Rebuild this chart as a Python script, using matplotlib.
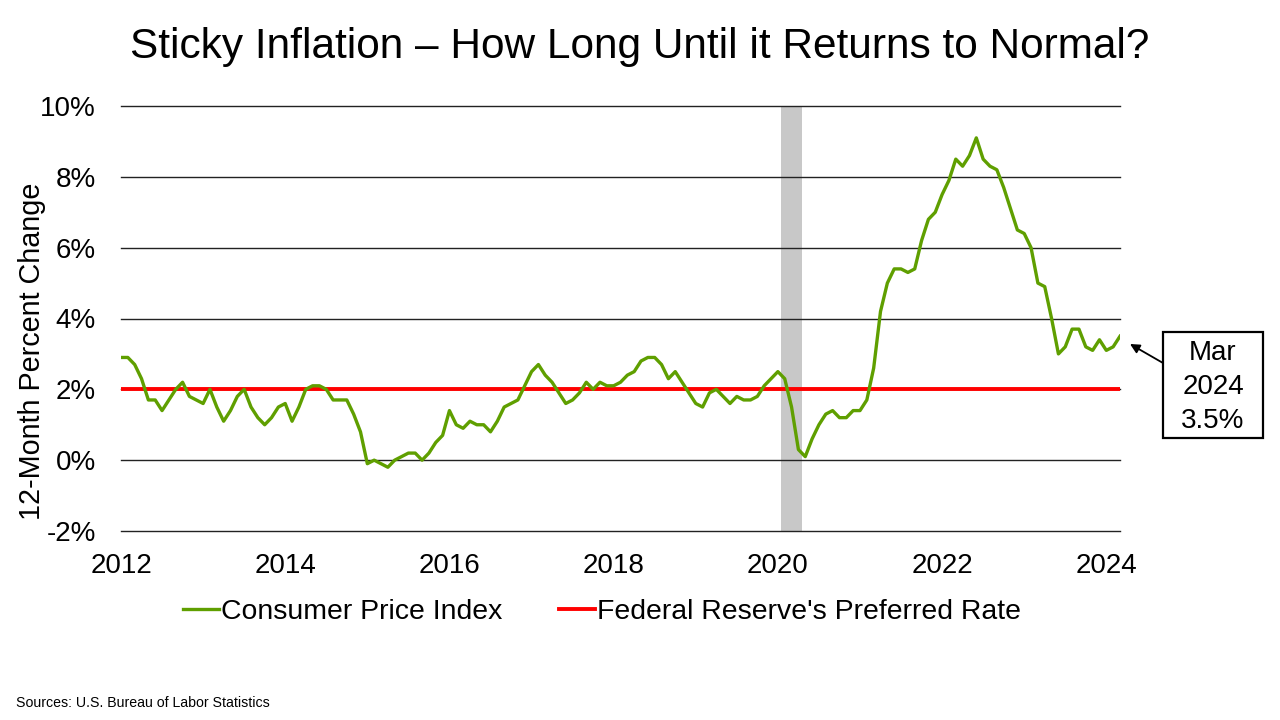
import numpy as np
import matplotlib.pyplot as plt
from matplotlib.patches import Rectangle

# CPI 12-month percent change, Jan 2012 - Mar 2024
cpi = [
    2.9, 2.9, 2.7, 2.3, 1.7, 1.7, 1.4, 1.7, 2.0, 2.2, 1.8, 1.7,   # 2012
    1.6, 2.0, 1.5, 1.1, 1.4, 1.8, 2.0, 1.5, 1.2, 1.0, 1.2, 1.5,   # 2013
    1.6, 1.1, 1.5, 2.0, 2.1, 2.1, 2.0, 1.7, 1.7, 1.7, 1.3, 0.8,   # 2014
    -0.1, 0.0, -0.1, -0.2, 0.0, 0.1, 0.2, 0.2, 0.0, 0.2, 0.5, 0.7,  # 2015
    1.4, 1.0, 0.9, 1.1, 1.0, 1.0, 0.8, 1.1, 1.5, 1.6, 1.7, 2.1,   # 2016
    2.5, 2.7, 2.4, 2.2, 1.9, 1.6, 1.7, 1.9, 2.2, 2.0, 2.2, 2.1,   # 2017
    2.1, 2.2, 2.4, 2.5, 2.8, 2.9, 2.9, 2.7, 2.3, 2.5, 2.2, 1.9,   # 2018
    1.6, 1.5, 1.9, 2.0, 1.8, 1.6, 1.8, 1.7, 1.7, 1.8, 2.1, 2.3,   # 2019
    2.5, 2.3, 1.5, 0.3, 0.1, 0.6, 1.0, 1.3, 1.4, 1.2, 1.2, 1.4,   # 2020
    1.4, 1.7, 2.6, 4.2, 5.0, 5.4, 5.4, 5.3, 5.4, 6.2, 6.8, 7.0,   # 2021
    7.5, 7.9, 8.5, 8.3, 8.6, 9.1, 8.5, 8.3, 8.2, 7.7, 7.1, 6.5,   # 2022
    6.4, 6.0, 5.0, 4.9, 4.0, 3.0, 3.2, 3.7, 3.7, 3.2, 3.1, 3.4,   # 2023
    3.1, 3.2, 3.5,                                                # 2024
]
fed_target = 2.0
recession_months = (97, 99)  # Feb 2020 - Apr 2020 (month index)
year_labels = [str(y) for y in range(2012, 2025, 2)]
y_ticks = [-2, 0, 2, 4, 6, 8, 10]
callout = 'Mar\n2024\n3.5%'

plt.rcParams['font.family'] = ['Liberation Sans', 'DejaVu Sans']

W, H = 1280, 720
fig = plt.figure(figsize=(12.8, 7.2), dpi=100)
ax = fig.add_axes([121 / W, 1 - 531 / H, 999 / W, 425 / H])

x = np.arange(len(cpi))
ax.axvspan(recession_months[0] - 0.5, recession_months[1] + 0.5,
           color='#c8c8c8', lw=0, zorder=1)
for v in y_ticks:
    ax.axhline(v, color='#222222', lw=1.0, zorder=1.5, clip_on=False)
ax.plot(x, cpi, color='#5f9f00', lw=2.4, zorder=3, label='Consumer Price Index')
ax.axhline(fed_target, color='#ff0000', lw=2.8, zorder=2,
           label="Federal Reserve's Preferred Rate")

ax.set_xlim(0, len(cpi) - 1)
ax.set_ylim(-2, 10)
ax.set_yticks(y_ticks)
ax.set_yticklabels([f'{v}%' for v in y_ticks])
ax.set_xticks(np.arange(0, len(cpi), 24))
ax.set_xticklabels(year_labels)
for s in ax.spines.values():
    s.set_visible(False)
ax.tick_params(axis='both', length=0, labelsize=20, colors='black')
ax.tick_params(axis='x', pad=16)
ax.tick_params(axis='y', pad=18)
ax.set_ylabel('12-Month Percent Change', fontsize=20.7)
ax.yaxis.set_label_coords(-0.075, 0.5 - 33 / 425)

# callout box for last value
fig.patches.append(Rectangle((1163 / W, 1 - 438 / H), 100 / W, 106 / H,
                             transform=fig.transFigure, fc='white', ec='black',
                             lw=1.6, zorder=5))
fig.text(1213 / W, 1 - 387 / H, callout, ha='center', va='center',
         fontsize=20, linespacing=1.4, zorder=6)
ax.annotate('', xy=(1130 / W, 1 - 344 / H), xycoords='figure fraction',
            xytext=(1163 / W, 1 - 363 / H), textcoords='figure fraction',
            arrowprops=dict(arrowstyle='-|>', color='black', lw=1.3,
                            shrinkA=0, shrinkB=0, mutation_scale=14),
            annotation_clip=False)

fig.text(0.5, 1 - 47 / H, 'Sticky Inflation \u2013 How Long Until it Returns to Normal?',
         ha='center', va='center', fontsize=30.5)

fig.legend(loc='center', bbox_to_anchor=(602 / W, 1 - 612 / H), ncol=2,
           frameon=False, fontsize=20.4, handlelength=1.27, handletextpad=0.08,
           columnspacing=2.0, borderpad=0, borderaxespad=0)

fig.text(16 / W, 1 - 703 / H, 'Sources: U.S. Bureau of Labor Statistics',
         ha='left', va='center', fontsize=10.2)

fig.savefig('out.png', dpi=100)
print("Saved: out.png")
